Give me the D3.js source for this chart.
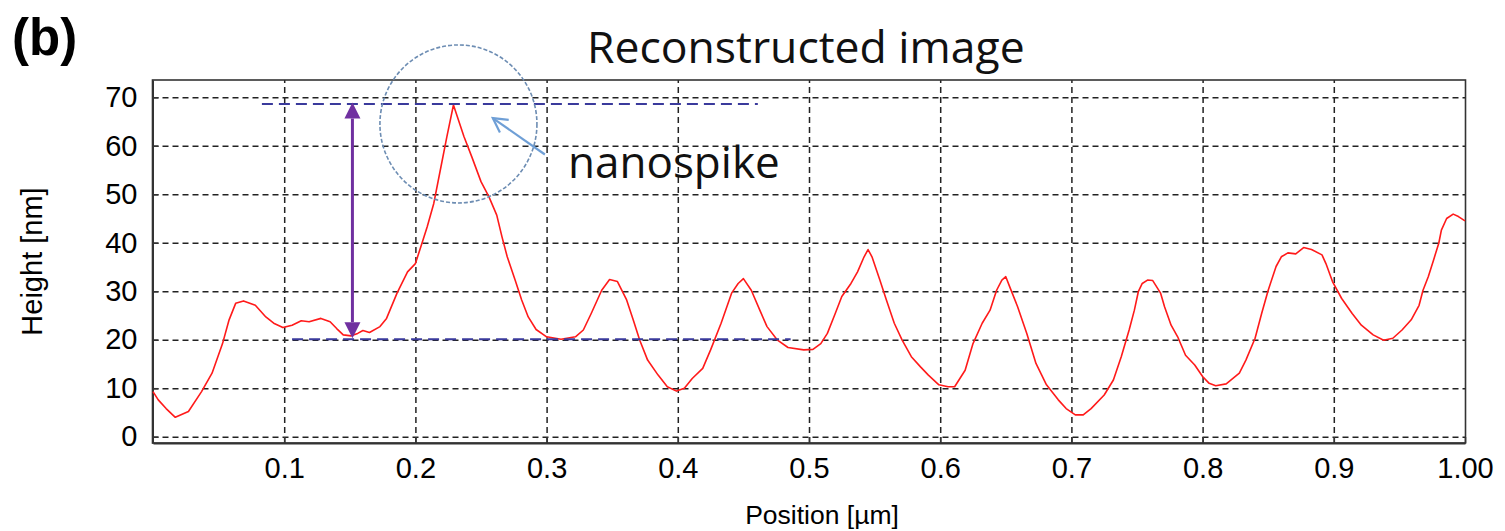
<!DOCTYPE html>
<html>
<head>
<meta charset="utf-8">
<script src="https://cdn.jsdelivr.net/npm/d3@7"></script>
<style>
  html, body { margin: 0; padding: 0; background: #fff; }
  svg { display: block; }
</style>
</head>
<body>
<svg id="chart" width="1505" height="531"></svg>
<script>
// ---------- data ----------
const positions = [0.000,0.004,0.010,0.017,0.027,0.037,0.045,0.053,0.058,0.063,0.069,0.078,0.086,0.092,0.099,
  0.106,0.113,0.119,0.128,0.135,0.140,0.145,0.151,0.156,0.160,0.165,0.173,0.178,0.186,0.194,0.200,0.205,0.209,
  0.214,0.219,0.224,0.229,0.237,0.243,0.250,0.256,0.262,0.266,0.270,0.276,0.281,0.286,0.292,0.300,0.311,0.322,
  0.328,0.334,0.342,0.348,0.354,0.361,0.366,0.371,0.377,0.385,0.392,0.399,0.405,0.411,0.419,0.425,0.433,0.441,
  0.446,0.450,0.456,0.463,0.468,0.476,0.484,0.496,0.503,0.509,0.514,0.520,0.525,0.532,0.537,0.542,0.545,0.548,
  0.554,0.559,0.565,0.571,0.578,0.585,0.591,0.599,0.606,0.611,0.619,0.625,0.632,0.638,0.643,0.647,0.650,0.653,
  0.659,0.666,0.673,0.681,0.690,0.696,0.703,0.709,0.715,0.725,0.732,0.738,0.744,0.748,0.751,0.754,0.758,0.762,
  0.768,0.771,0.776,0.781,0.787,0.794,0.800,0.805,0.810,0.818,0.828,0.833,0.840,0.845,0.850,0.856,0.860,0.865,
  0.871,0.877,0.883,0.891,0.894,0.899,0.906,0.914,0.921,0.930,0.938,0.945,0.952,0.959,0.965,0.968,0.972,0.976,
  0.980,0.982,0.986,0.991,0.995,1.000];
const heights = [9.3,7.6,5.8,4.0,5.2,9.3,13.1,19.2,24.1,27.5,28.0,27.1,24.7,23.4,22.5,
  23.0,23.9,23.7,24.4,23.7,22.3,21.0,20.8,21.3,21.9,21.5,22.7,24.4,29.6,34.0,35.7,39.9,43.3,
  48.1,55.0,61.9,68.4,61.9,57.7,52.6,49.5,45.7,41.2,37.1,32.3,28.2,24.7,22.1,20.6,20.1,20.6,
  22.0,25.4,30.2,32.4,32.0,28.2,24.1,19.9,15.8,12.7,10.3,9.4,10.0,12.0,14.1,17.9,23.4,29.6,
  31.6,32.6,30.2,25.8,22.7,19.9,18.4,17.9,18.0,19.2,21.3,25.4,28.9,31.6,34.0,37.1,38.6,37.1,
  32.3,28.2,23.4,19.9,16.5,14.4,12.7,10.7,10.3,10.3,13.7,19.2,23.4,26.1,30.2,32.3,33.0,30.9,
  26.8,21.3,15.1,10.7,7.6,5.8,4.5,4.5,5.8,8.6,11.7,16.5,22.0,26.1,29.9,31.6,32.3,32.2,
  29.6,26.8,23.0,20.6,16.8,14.8,12.4,11.0,10.5,10.9,13.1,15.8,20.3,25.4,30.2,35.1,37.1,37.9,
  37.7,39.0,38.6,37.5,35.7,32.0,28.5,25.4,23.0,21.0,19.9,20.3,22.0,24.1,27.1,30.2,33.0,36.4,
  39.9,42.6,45.0,45.9,45.4,44.5];

const xTickValues = [0.1,0.2,0.3,0.4,0.5,0.6,0.7,0.8,0.9,1.0];
const xTickLabels = ["0.1","0.2","0.3","0.4","0.5","0.6","0.7","0.8","0.9","1.00"];
const yTickValues = [0,10,20,30,40,50,60,70];
const yTickLabels = ["0","10","20","30","40","50","60","70"];

const titleText = "Reconstructed image";
const panelLabel = "(b)";
const xLabel = "Position [\u00b5m]";
const yLabel = "Height [nm]";
const annotText = "nanospike";

// annotation values (data space)
const peakLevel = 68.6, baseLevel = 20.1;
const peakLineX = [0.083, 0.461];
const baseLineX = [0.106, 0.486];
const arrowX = 0.152;
const circleCenter = [0.2328, 64.5];
const pointerFrom = [0.2987, 58.2], pointerTo = [0.259, 65.7];

// ---------- layout ----------
const svg = d3.select("#chart");
const pL = 152.5, pR = 1465.5, pT = 80, pB = 443;
const x = d3.scaleLinear().domain([0, 1]).range([153, 1465]);
const y = d3.scaleLinear().domain([-1.3, 73.56]).range([pB, pT]);

const tickFont = "'Liberation Sans', Arial, sans-serif";
const capFont = "'Open Sans', sans-serif";

// gridlines
const grid = svg.append("g").attr("class", "grid");
grid.append("g")
  .attr("transform", `translate(0,${pB})`)
  .call(d3.axisBottom(x).tickValues(xTickValues.slice(0, 9)).tickSize(-(pB - pT)).tickFormat(""))
  .call(g => g.select(".domain").remove())
  .call(g => g.selectAll("line").attr("stroke", "#222").attr("stroke-width", 1.5).attr("stroke-dasharray", "6,4"));
grid.append("g")
  .attr("transform", `translate(${pL},0)`)
  .call(d3.axisLeft(y).tickValues(yTickValues).tickSize(-(pR - pL)).tickFormat(""))
  .call(g => g.select(".domain").remove())
  .call(g => g.selectAll("line").attr("stroke", "#222").attr("stroke-width", 1.5).attr("stroke-dasharray", "6,4"));

// frame
svg.append("rect")
  .attr("x", pL).attr("y", pT).attr("width", pR - pL).attr("height", pB - pT)
  .attr("fill", "none").attr("stroke", "#333").attr("stroke-width", 1.6);

// axes (ticks inward)
const xAxis = svg.append("g")
  .attr("transform", `translate(0,${pB})`)
  .call(d3.axisBottom(x).tickValues(xTickValues).tickSizeInner(-6).tickSizeOuter(0).tickPadding(14)
    .tickFormat((d, i) => xTickLabels[i]));
xAxis.select(".domain").attr("stroke", "#333").attr("stroke-width", 2);
xAxis.selectAll("line").attr("stroke", "#333").attr("stroke-width", 1.5);
xAxis.selectAll("text").attr("font-family", tickFont).attr("font-size", 29).attr("fill", "#000")
  .attr("dy", "0.71em");

const yAxis = svg.append("g")
  .attr("transform", `translate(${pL},0)`)
  .call(d3.axisLeft(y).tickValues(yTickValues).tickSizeInner(-6).tickSizeOuter(0).tickPadding(15)
    .tickFormat((d, i) => yTickLabels[i]));
yAxis.select(".domain").attr("stroke", "#333").attr("stroke-width", 2);
yAxis.selectAll("line").attr("stroke", "#333").attr("stroke-width", 1.5);
yAxis.selectAll("text").attr("font-family", tickFont).attr("font-size", 29).attr("fill", "#000");

// curve
const line = d3.line().x((d, i) => x(positions[i])).y(d => y(d));
svg.append("path")
  .datum(heights)
  .attr("d", line)
  .attr("fill", "none").attr("stroke", "#ff1a1a").attr("stroke-width", 1.6)
  .attr("stroke-linejoin", "round");

// navy dashed reference lines
const navy = "#3a3a9c";
svg.append("line")
  .attr("x1", x(peakLineX[0])).attr("x2", x(peakLineX[1]))
  .attr("y1", y(peakLevel)).attr("y2", y(peakLevel))
  .attr("stroke", navy).attr("stroke-width", 2).attr("stroke-dasharray", "11,6");
svg.append("line")
  .attr("x1", x(baseLineX[0])).attr("x2", x(baseLineX[1]))
  .attr("y1", y(baseLevel)).attr("y2", y(baseLevel))
  .attr("stroke", navy).attr("stroke-width", 2).attr("stroke-dasharray", "11,6");

// purple double arrow
const purple = "#7030a0";
const ax = x(arrowX), ayTop = y(peakLevel) - 1.5, ayBot = y(baseLevel) - 1;
const head = 16, hw = 8;
svg.append("line").attr("x1", ax).attr("x2", ax).attr("y1", ayTop + head).attr("y2", ayBot - head)
  .attr("stroke", purple).attr("stroke-width", 3);
svg.append("path")
  .attr("d", `M${ax},${ayTop} L${ax - hw},${ayTop + head} L${ax + hw},${ayTop + head} Z`)
  .attr("fill", purple);
svg.append("path")
  .attr("d", `M${ax},${ayBot} L${ax - hw},${ayBot - head} L${ax + hw},${ayBot - head} Z`)
  .attr("fill", purple);

// dashed circle
const cx = x(circleCenter[0]), cy = y(circleCenter[1]);
svg.append("ellipse")
  .attr("cx", cx).attr("cy", cy).attr("rx", 78.5).attr("ry", 79)
  .attr("fill", "none").attr("stroke", "#6d8db3").attr("stroke-width", 1.6)
  .attr("stroke-dasharray", "4,2");

// pointer arrow
const p1 = [x(pointerFrom[0]), y(pointerFrom[1])], p2 = [x(pointerTo[0]), y(pointerTo[1])];
const ang = Math.atan2(p1[1] - p2[1], p1[0] - p2[0]);
const hl = 16, spread = 0.5;
const blue = "#6f9fd6";
svg.append("line").attr("x1", p1[0]).attr("y1", p1[1]).attr("x2", p2[0]).attr("y2", p2[1])
  .attr("stroke", blue).attr("stroke-width", 2.2);
svg.append("path")
  .attr("d", `M${p2[0] + hl * Math.cos(ang + spread)},${p2[1] + hl * Math.sin(ang + spread)} L${p2[0]},${p2[1]} L${p2[0] + hl * Math.cos(ang - spread)},${p2[1] + hl * Math.sin(ang - spread)}`)
  .attr("fill", "none").attr("stroke", blue).attr("stroke-width", 2.2);

// texts
svg.append("text").attr("x", 587).attr("y", 63)
  .attr("font-family", capFont).attr("font-size", 44.5).attr("fill", "#111")
  .text(titleText);
svg.append("text").attr("x", 568).attr("y", 178)
  .attr("font-family", capFont).attr("font-size", 44).attr("fill", "#111")
  .text(annotText);
svg.append("text").attr("x", 12).attr("y", 55)
  .attr("font-family", tickFont).attr("font-weight", "bold").attr("font-size", 51).attr("fill", "#000")
  .text(panelLabel);
svg.append("text").attr("x", 822).attr("y", 524)
  .attr("text-anchor", "middle")
  .attr("font-family", tickFont).attr("font-size", 26.5).attr("fill", "#000")
  .text(xLabel);
svg.append("text")
  .attr("transform", `translate(42,${(pT + pB) / 2}) rotate(-90)`)
  .attr("text-anchor", "middle")
  .attr("font-family", tickFont).attr("font-size", 29).attr("fill", "#000")
  .text(yLabel);
</script>
</body>
</html>
